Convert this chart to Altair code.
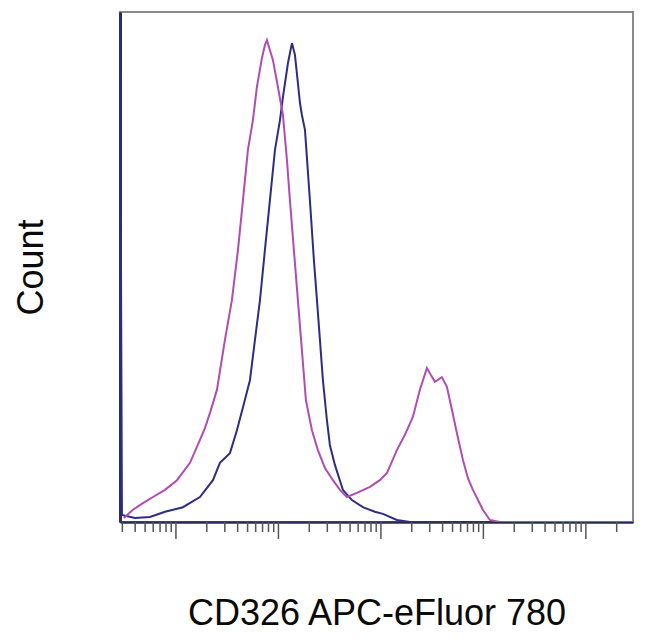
import altair as alt
import pandas as pd

# x positions in decade units (0..4 = major log decades), y = relative count (0..100)
blue_x = [-0.546, -0.527, -0.40, -0.254, -0.107, 0.068, 0.234, 0.361, 0.429, 0.527, 0.595,
          0.654, 0.722, 0.771, 0.820, 0.868, 0.917, 0.966, 1.015, 1.044, 1.093, 1.132, 1.161,
          1.180, 1.210, 1.229, 1.259, 1.307, 1.346, 1.376, 1.405, 1.434, 1.473, 1.502, 1.551,
          1.629, 1.717, 1.824, 1.941, 2.020, 2.156, 2.283, 4.46]
blue_y = [100.0, 1.4, 0.8, 1.0, 2.0, 2.9, 4.9, 8.2, 11.6, 13.5, 18.0,
          22.5, 27.8, 35.7, 43.5, 53.3, 63.1, 72.9, 78.8, 83.3, 90.0, 93.9, 91.6,
          88.0, 82.2, 79.8, 76.9, 63.1, 51.4, 43.5, 35.7, 27.8, 20.0, 15.1, 11.2,
          6.3, 4.3, 2.9, 2.0, 1.6, 0.4, 0.0, 0.0]

magenta_x = [-0.508, -0.420, -0.322, -0.224, -0.107, 0.010, 0.137, 0.234, 0.283, 0.332, 0.400,
             0.478, 0.546, 0.605, 0.654, 0.702, 0.751, 0.790, 0.839, 0.868, 0.888, 0.917, 0.946,
             0.995, 1.044, 1.083, 1.112, 1.151, 1.190, 1.229, 1.268, 1.327, 1.385, 1.454, 1.532,
             1.600, 1.668, 1.766, 1.893, 1.990, 2.059, 2.156, 2.234, 2.312, 2.380, 2.449, 2.488,
             2.527, 2.595, 2.644, 2.693, 2.741, 2.800, 2.849, 2.898, 2.995, 3.063, 3.161, 4.46]
magenta_y = [0.8, 2.4, 3.7, 4.9, 6.3, 8.2, 11.6, 16.1, 18.4, 21.4, 25.9,
             35.7, 43.5, 53.3, 63.1, 72.9, 78.8, 85.3, 91.0, 93.5, 94.5, 92.5, 90.6,
             85.3, 79.8, 71.0, 63.1, 53.3, 43.5, 33.7, 23.9, 18.0, 14.1, 10.6, 8.2,
             6.3, 4.9, 5.7, 6.9, 8.2, 9.6, 14.1, 17.1, 20.6, 25.9, 30.2, 28.8,
             27.5, 28.4, 26.5, 22.0, 17.5, 12.2, 8.6, 6.3, 2.4, 0.4, 0.0, 0.0]

series_names = ["Isotype", "CD326"]
series_colors = ["#2e2d86", "#b04cb4"]

# axis tick positions (log decades with minor ticks)
major_ticks = [0, 1, 2, 3, 4]
minor_offsets = [0.301, 0.477, 0.602, 0.699, 0.778, 0.845, 0.903, 0.954]
minor_ticks = [d + o for d in [-1, 0, 1, 2, 3, 4] for o in minor_offsets]
minor_ticks = [t for t in minor_ticks if -0.546 <= t <= 4.46]

df = pd.concat([
    pd.DataFrame({"x": blue_x, "y": blue_y, "s": series_names[0], "o": range(len(blue_x))}),
    pd.DataFrame({"x": magenta_x, "y": magenta_y, "s": series_names[1], "o": range(len(magenta_x))}),
])
ticks_df = pd.concat([
    pd.DataFrame({"t": major_ticks, "kind": "major"}),
    pd.DataFrame({"t": minor_ticks, "kind": "minor"}),
])

H = 510
xscale = alt.Scale(domain=[-0.546, 4.46], nice=False, zero=False)
yscale = alt.Scale(domain=[0, 100], nice=False)

lines = alt.Chart(df).mark_line(strokeWidth=2, clip=True, interpolate="linear").encode(
    x=alt.X("x:Q", scale=xscale, axis=alt.Axis(
        title="CD326 APC-eFluor 780", labels=False, ticks=False, grid=False,
        domainColor="#2a2a55", domainWidth=2.5,
        titleFont="Liberation Sans", titleFontSize=36, titleFontWeight="normal",
        titleColor="#0a0a0a", titlePadding=74)),
    y=alt.Y("y:Q", scale=yscale, axis=alt.Axis(
        title="Count", labels=False, ticks=False, grid=False,
        domainColor="#2a2a70", domainWidth=3,
        titleFont="Liberation Sans", titleFontSize=36, titleFontWeight="normal",
        titleColor="#0a0a0a", titlePadding=70)),
    color=alt.Color("s:N", scale=alt.Scale(domain=series_names, range=series_colors), legend=None),
    order="o:Q",
)

major = alt.Chart(ticks_df).transform_filter("datum.kind == 'major'").mark_rule(
    color="#555555", strokeWidth=1.5).encode(
    x=alt.X("t:Q", scale=xscale), y=alt.value(H), y2=alt.value(H + 17))
minor = alt.Chart(ticks_df).transform_filter("datum.kind == 'minor'").mark_rule(
    color="#555555", strokeWidth=1.5).encode(
    x=alt.X("t:Q", scale=xscale), y=alt.value(H), y2=alt.value(H + 10))

chart = alt.layer(lines, major, minor).properties(
    width=513, height=H,
    padding={"left": 112, "top": 4, "right": 9, "bottom": 118},
    autosize=alt.AutoSizeParams(type="none"),
).configure_view(stroke="#8a8a8a", strokeWidth=2)

chart.save("out.html", embed_options={"renderer": "svg", "actions": False})
